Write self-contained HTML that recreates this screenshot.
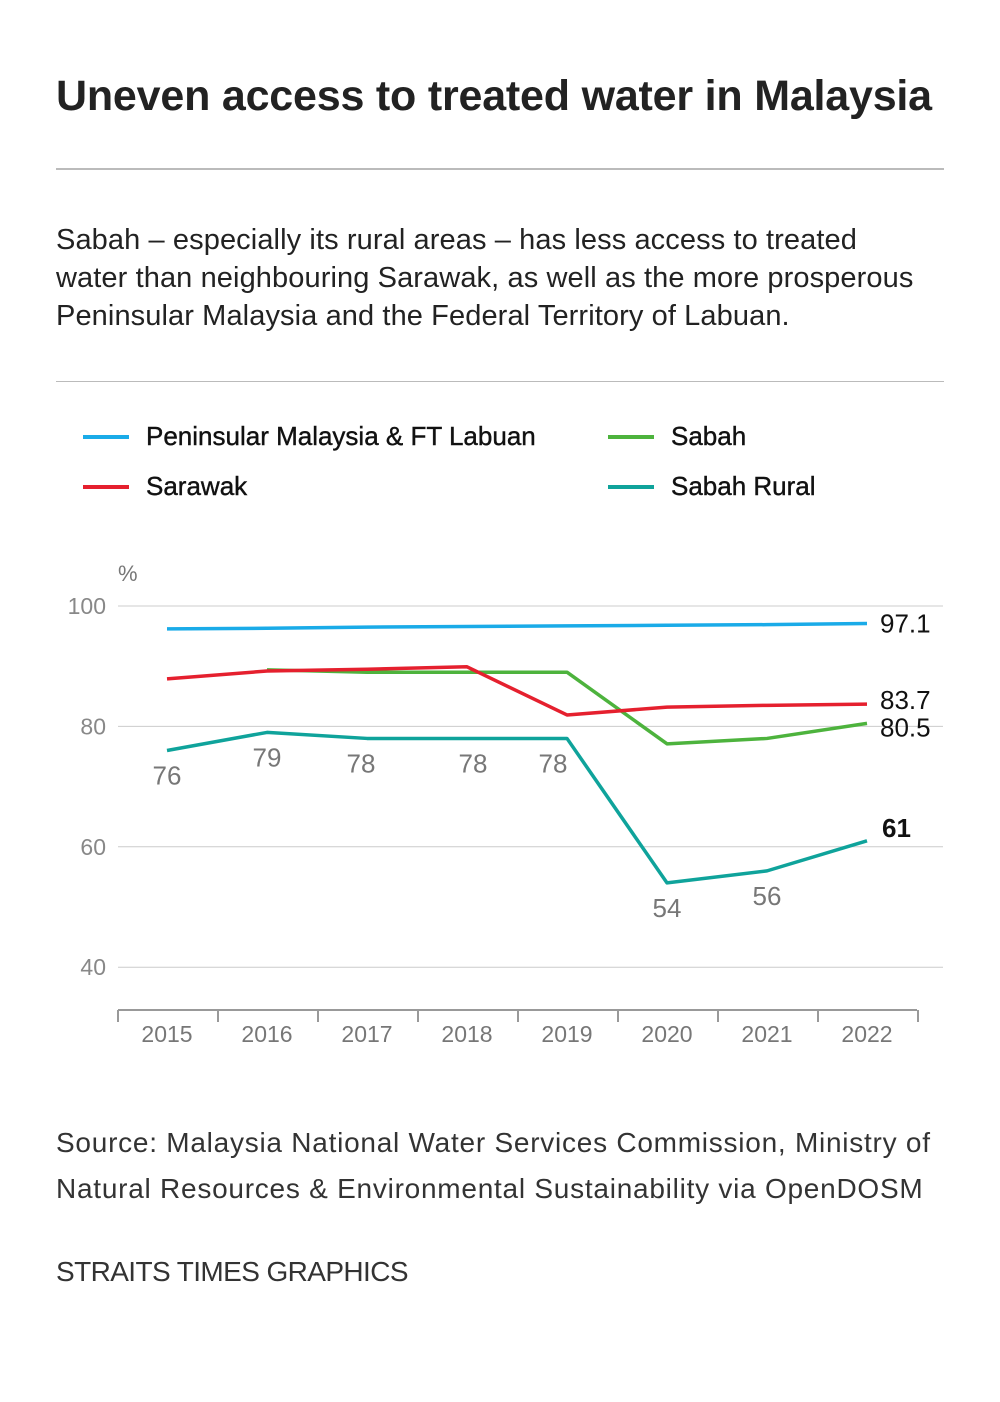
<!DOCTYPE html>
<html><head><meta charset="utf-8"><style>
body{margin:0;background:#fff;font-family:"Liberation Sans",sans-serif;}
#wrap{position:relative;width:1000px;height:1402px;overflow:hidden;}
.t{position:absolute;margin:0;}
</style></head><body>
<div id="wrap">
<h1 class="t" style="left:56px;top:72px;font-size:43px;font-weight:bold;color:#222;letter-spacing:-0.2px;">Uneven access to treated water in Malaysia</h1>
<div class="t" style="left:56px;top:168px;width:888px;height:2px;background:#bbb;"></div>
<p class="t" style="left:56px;top:221px;width:900px;font-size:29px;line-height:38px;color:#222;letter-spacing:0.1px;">Sabah – especially its rural areas – has less access to treated<br>water than neighbouring Sarawak, as well as the more prosperous<br>Peninsular Malaysia and the Federal Territory of Labuan.</p>
<div class="t" style="left:56px;top:381px;width:888px;height:1px;background:#bbb;"></div>
<svg class="t" style="left:0;top:0" width="1000" height="1402" id="chart"></svg>
<p class="t" style="left:56px;top:1120px;width:940px;font-size:28px;line-height:46px;color:#333;letter-spacing:0.75px;">Source: Malaysia National Water Services Commission, Ministry of Natural Resources &amp; Environmental Sustainability via OpenDOSM</p>
<p class="t" style="left:56px;top:1256px;font-size:28px;color:#333;letter-spacing:-0.6px;">STRAITS TIMES GRAPHICS</p>
</div>
<script>
const years=[2015,2016,2017,2018,2019,2020,2021,2022];
const peninsular=[96.2,96.3,96.5,96.6,96.7,96.8,96.9,97.1];
const sarawak=[87.9,89.2,89.5,89.9,81.9,83.2,83.5,83.7];
const sabah=[null,89.4,89.0,89.0,89.0,77.1,78.0,80.5];
const sabahRural=[76,79,78,78,78,54,56,61];
const yTicks=[100,80,60,40];
const seriesNames=["Peninsular Malaysia & FT Labuan","Sarawak","Sabah","Sabah Rural"];
const NS="http://www.w3.org/2000/svg";
const svg=document.getElementById('chart');
const x=i=>167+i*100;
const y=v=>606+(100-v)*6.02;
function mk(tag,attrs,txt){const e=document.createElementNS(NS,tag);for(const k in attrs)e.setAttribute(k,attrs[k]);if(txt!==undefined)e.textContent=txt;svg.appendChild(e);return e;}
const leg=[[83,436,"#1aabe8",0],[83,486,"#e5202e",1],[608,436,"#4db33d",2],[608,486,"#0fa39b",3]];
leg.forEach(l=>{
 let e=mk('line',{x1:l[0],x2:l[0]+46,y1:l[1]+1,y2:l[1]+1,stroke:l[2],'stroke-width':4});
 
 
 e=mk('text',{x:l[0]+63,y:l[1]+9,'font-size':26,fill:'#111','font-family':'Liberation Sans, sans-serif','stroke':'#111','stroke-width':0.4},seriesNames[l[3]]);
 
 
});
let u=mk('text',{x:118,y:581,'font-size':22,fill:'#777'},'%');


yTicks.forEach(t=>{
 let g=mk('line',{x1:118,x2:943,y1:y(t),y2:y(t),stroke:'#ccc','stroke-width':1});
 
 
 let l=mk('text',{x:106,y:y(t)+8,'font-size':23,fill:'#888','text-anchor':'end'},t);
 
 
});
let ax=mk('line',{x1:118,x2:917,y1:1010,y2:1010,stroke:'#999','stroke-width':2});


for(let i=0;i<=years.length;i++){
 let tk=mk('line',{x1:x(i)-49,x2:x(i)-49,y1:1010,y2:1022,stroke:'#999','stroke-width':2});
 
 
}
years.forEach((yr,i)=>{
 let l=mk('text',{x:x(i),y:1042,'font-size':23,fill:'#777','text-anchor':'middle'},yr);
 
 
});
function line(vals,color,name){
 let d='';vals.forEach((v,i)=>{if(v==null)return;d+=(d?'L':'M')+x(i)+','+y(v);});
 let p=mk('path',{d:d,fill:'none',stroke:color,'stroke-width':3.5,'stroke-linejoin':'round'});
 
 
}
line(peninsular,'#1aabe8','peninsular-line');
line(sabah,'#4db33d','sabah-line');
line(sarawak,'#e5202e','sarawak-line');
line(sabahRural,'#0fa39b','sabah-rural-line');
[[peninsular,0],[sarawak,-4],[sabah,4]].forEach(s=>{
 const v=s[0][7];
 let t=mk('text',{x:880,y:y(v)+9+s[1],'font-size':26,fill:'#111'},v);
 
 
});
const dxs=[0,0,-6,6,-14,0,0];
sabahRural.forEach((v,i)=>{
 if(i===7){let t=mk('text',{x:x(i)+15,y:y(v)-4,'font-size':26,'font-weight':'bold',fill:'#111'},v);
  
  return;}
 let t=mk('text',{x:x(i)+dxs[i],y:y(v)+34,'font-size':26,fill:'#777','text-anchor':'middle'},v);
 
 
});
</script>
</body></html>
